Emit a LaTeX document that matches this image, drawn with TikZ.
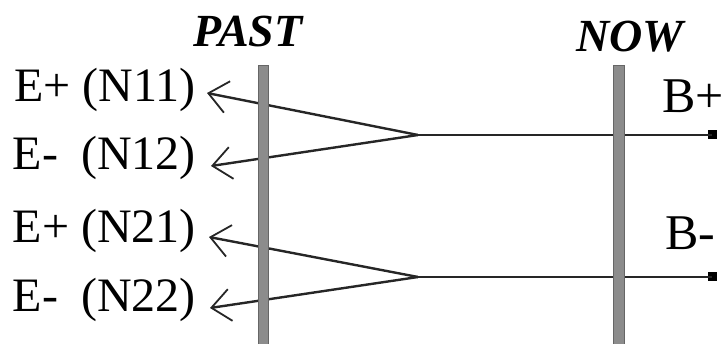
\documentclass[tikz,border=0pt]{standalone}
\usepackage{fontspec}
\setmainfont{Liberation Serif}
\usetikzlibrary{arrows.meta}
\begin{document}
\begin{tikzpicture}[x=1pt,y=-1pt,
  lbl/.style={font=\fontsize{48}{58}\selectfont, inner sep=0pt, anchor=base east},
  blbl/.style={font=\fontsize{50}{60}\selectfont, inner sep=0pt, anchor=base},
  era/.style={font=\fontsize{46}{56}\selectfont\bfseries\itshape, inner sep=0pt, anchor=base},
  wire/.style={line width=2.4pt, draw=black!85},
  tipped/.style={wire, arrows={-Straight Barb[length=19pt, width=32pt, line width=1.8pt]}},
  bar/.style={fill=black!45, draw=black!60, line width=0.6pt},
  endsq/.style={fill=black, minimum size=9pt, inner sep=0pt, draw=none}]
\useasboundingbox (0,0) rectangle (725,344);

% era labels
\node[era] (past) at (248,47) {PAST};
\node[era] (now)  at (630,52) {NOW};

% event labels on the left
\node[lbl] (n11) at (196,102) {E+ (N11)};
\node[lbl] (n12) at (196,170) {E-\hspace{0.23em} (N12)};
\node[lbl] (n21) at (196,243) {E+ (N21)};
\node[lbl] (n22) at (196,312) {E-\hspace{0.23em} (N22)};

% branch labels on the right
\node[blbl] (bp) at (693,113) {B+};
\node[blbl] (bm) at (690,250) {B-};

% arrow tips, fork points and line ends
\coordinate (t11) at (207,93);
\coordinate (t12) at (211,166);
\coordinate (t21) at (209,237);
\coordinate (t22) at (210,308);
\coordinate (f1) at (418,135);
\coordinate (f2) at (418,277);
\node[endsq] (e1) at (712,135) {};
\node[endsq] (e2) at (712,277) {};

% world lines
\draw[wire] (f1) -- (e1.center);
\draw[wire] (f2) -- (e2.center);
\draw[tipped] (f1) -- (t11);
\draw[tipped] (f1) -- (t12);
\draw[tipped] (f2) -- (t21);
\draw[tipped] (f2) -- (t22);

% time bars
\path[bar] (258,65) rectangle (268,344);
\path[bar] (613,65) rectangle (624,344);
\end{tikzpicture}
\end{document}
